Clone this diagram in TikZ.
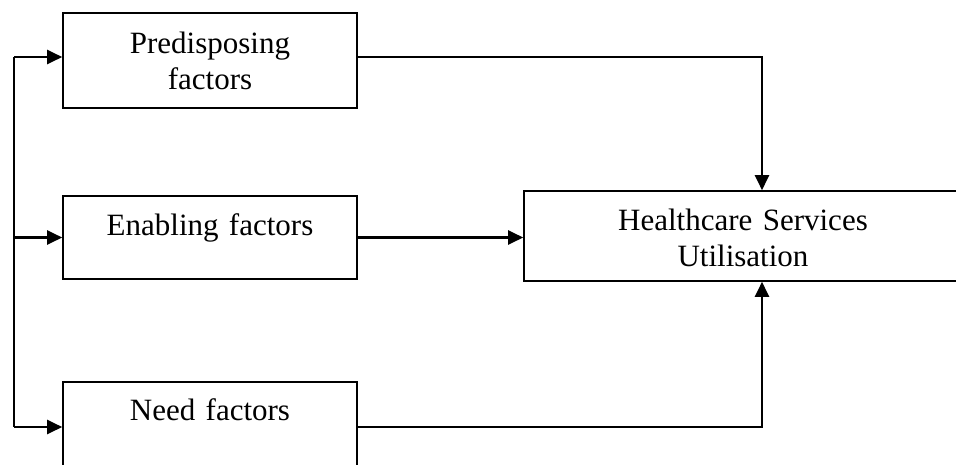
\documentclass[tikz,border=0pt]{standalone}
\usepackage{fontspec}
\setmainfont{Liberation Serif}
\usetikzlibrary{arrows.meta}
\tikzset{
  box/.style={draw, line width=1.6pt, rectangle, inner sep=0pt},
  lbl/.style={inner sep=0pt, anchor=base, align=center, font=\fontsize{31}{36}\selectfont},
  arr/.style={line width=2.2pt, -{Triangle[length=15pt,width=14pt]}},
  ln/.style={line width=2.2pt}
}
\begin{document}
\begin{tikzpicture}[x=1pt,y=-1pt]
\useasboundingbox (0,0) rectangle (956,464);
\clip (0,0) rectangle (956,464);
% boxes
\node[box, minimum width=294pt, minimum height=95pt] (pre) at (210,60.5) {};
\node[box, minimum width=294pt, minimum height=83pt] (ena) at (210,237.5) {};
\node[box, minimum width=294pt, minimum height=88pt] (need) at (210,426) {};
\node[box, minimum width=438pt, minimum height=90pt] (hsu) at (743,236) {};
% texts
\node[lbl, text width=294pt] (preT) at (210,53) {Predisposing\\factors};
\node[lbl, text width=294pt] (enaT) at (210,235) {Enabling factors};
\node[lbl, text width=294pt] (needT) at (210,420) {Need factors};
\node[lbl, text width=420pt] (hsuT) at (743,230.5) {Healthcare Services\\Utilisation};
% connectors
\coordinate (t1) at (14,57);
\coordinate (t3) at (14,427);
\coordinate (hx) at (762,236);
\draw[ln] (t1) -- (t3);
\draw[arr] (t1) -- (t1 -| pre.west);
\draw[arr] (ena.west -| t1) -- (ena.west);
\draw[arr] (t3) -- (t3 -| need.west);
\draw[arr] (t1 -| pre.east) -| (hx |- hsu.north);
\draw[arr] (ena.east) -- (ena.east -| hsu.west);
\draw[arr] (t3 -| need.east) -| (hx |- hsu.south);
\end{tikzpicture}
\end{document}
